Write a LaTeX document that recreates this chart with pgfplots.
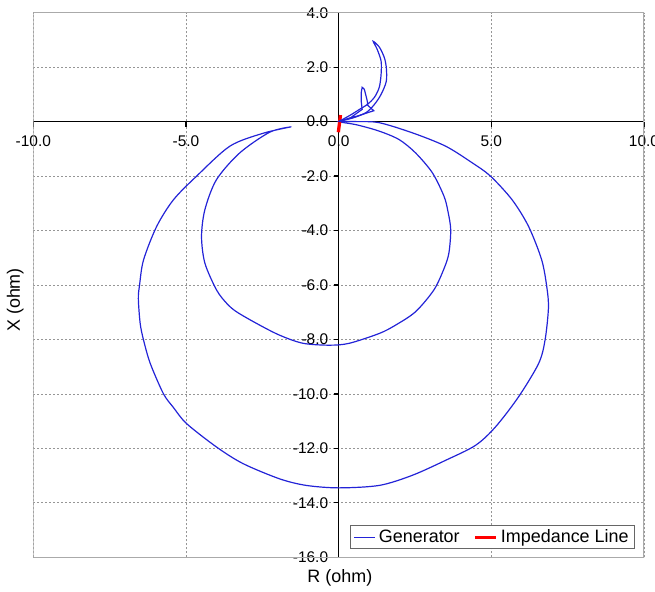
\documentclass[border=0pt]{standalone}
\usepackage{pgfplots}
\pgfplotsset{compat=1.18}
\usepackage{fontspec}
\setmainfont{Liberation Sans}
\definecolor{genblue}{RGB}{35,35,215}
\definecolor{framegray}{RGB}{170,170,170}
\definecolor{gridgray}{RGB}{150,150,150}
\begin{document}
\begin{tikzpicture}
\begin{axis}[
  at={(0,0)}, anchor=south west,
  scale only axis, width=610.7bp, height=544.6bp,
  xmin=-10, xmax=10, ymin=-16, ymax=4,
  axis lines=middle,
  axis line style={black, line width=1.6bp, -},
  xtick={-10,-5,0,5,10}, ytick={-16,-14,...,4},
  hide obscured x ticks=false, hide obscured y ticks=false,
  tick align=outside, major tick length=5bp,
  tick style={black, line width=1.2bp},
  grid=major,
  major grid style={gridgray, dash pattern=on 2bp off 2bp, line width=0.8bp},
  /pgf/number format/assume math mode=true,
  /pgf/number format/.cd, fixed, fixed zerofill, precision=1,
  /pgfplots/.cd,
  tick label style={font=\fontsize{15.5}{17}\selectfont, black},
  xticklabel style={anchor=north, yshift=-6bp},
  yticklabel style={anchor=east, xshift=-2bp},
  xlabel={R (ohm)}, ylabel={X (ohm)},
  every axis x label/.style={at={(rel axis cs:0.502,-0.038)}, anchor=center, font=\fontsize{18}{20}\selectfont},
  every axis y label/.style={at={(rel axis cs:-0.0295,0.4725)}, anchor=center, rotate=90, font=\fontsize{18}{20}\selectfont},
  legend columns=2,
  legend image code/.code={\draw[#1] (0bp,0bp) -- (21bp,0bp);},
  legend style={at={(1,0)}, anchor=south east, xshift=-9bp, yshift=8bp,
    draw=black!60, line width=0.8bp, fill=white,
    font=\fontsize{18}{19.5}\selectfont, inner xsep=3bp, inner ysep=2.5bp,
    nodes={inner xsep=3bp},
    /tikz/every even column/.append style={column sep=11bp}},
  legend cell align=left,
]
\draw[framegray, line width=1.2bp] (rel axis cs:0,0) rectangle (rel axis cs:1,1);
\addplot[genblue, line width=1.2bp, smooth] coordinates {
(-1.55,-0.19) (-2.26,-0.39) (-3.24,-1.15) (-4.0,-2.13) (-4.38,-3.23) (-4.49,-4.22)
(-4.38,-5.2) (-4.0,-6.18) (-3.67,-6.67) (-3.35,-6.98) (-2.69,-7.41) (-1.94,-7.84)
(-1.17,-8.14) (-0.30,-8.21) (0.35,-8.14) (1.33,-7.78) (1.87,-7.47) (2.52,-6.98)
(3.12,-6.18) (3.45,-5.4) (3.61,-4.83) (3.67,-3.97) (3.58,-3.3) (3.45,-2.74) (3.07,-1.88)
(2.52,-1.15) (1.98,-0.66) (1.33,-0.35) (0.6,-0.12) (0,0)
(0.6,0.0) (1.33,-0.04) (2.41,-0.41) (3.50,-0.90) (4.37,-1.51) (4.97,-2.0) (5.68,-2.87)
(6.22,-3.85) (6.65,-5.08) (6.82,-6.1) (6.87,-6.85) (6.76,-8.02) (6.55,-8.88)
(5.89,-10.11) (5.13,-11.22) (4.48,-11.89) (3.50,-12.44) (2.41,-12.99) (1.33,-13.36)
(0,-13.45) (-1.06,-13.36) (-1.93,-13.12) (-3.13,-12.56) (-4.0,-11.95) (-4.98,-11.09)
(-5.41,-10.5) (-5.74,-9.99) (-6.17,-8.88) (-6.39,-8.02) (-6.5,-7.41) (-6.56,-6.5)
(-6.52,-6.0) (-6.39,-5.08) (-5.96,-3.85) (-5.41,-2.87) (-4.65,-2.0) (-3.56,-0.90)
(-2.48,-0.43) (-1.55,-0.19)
};
\addlegendentry{Generator}
\addplot[red, line width=3.3bp] coordinates {(-0.01,-0.39) (0.06,0.24)};
\addlegendentry{Impedance Line}
\addplot[genblue, line width=1.2bp, forget plot] coordinates {
(0,0) (0.4,0.15) (0.77,0.45) (0.74,0.74) (0.74,1.07) (0.77,1.26) (0.84,1.19)
(0.90,0.93) (0.94,0.74) (0.95,0.6) (1.15,0.4) (0.6,0.2) (0,0.02)
};
\addplot[genblue, line width=1.2bp, smooth, forget plot] coordinates {
(0,0) (0.51,0.15) (0.91,0.34) (1.17,0.63) (1.39,1.0) (1.56,1.48) (1.56,2.0)
(1.49,2.37) (1.33,2.74) (1.13,2.95) (1.26,2.66) (1.39,2.22) (1.39,1.74) (1.33,1.26)
(1.17,0.89) (0.94,0.63) (0.74,0.49) (0.4,0.25) (0,0)
};
\end{axis}
\pgfresetboundingbox
\path[use as bounding box] (-33.3bp,-34.7bp) rectangle (621.7bp,557.3bp);
\end{tikzpicture}
\end{document}
